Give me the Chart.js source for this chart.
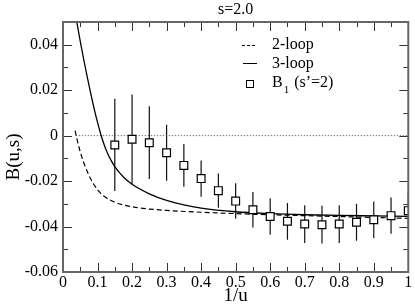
<!DOCTYPE html>
<html><head><meta charset="utf-8">
<script src="https://cdn.jsdelivr.net/npm/chart.js@4/dist/chart.umd.min.js"></script>
<style>html,body{margin:0;padding:0;background:#fff}canvas{display:block}</style>
</head><body>
<canvas id="c" width="415" height="308"></canvas>
<script>
const chartTitle = 's=2.0';
const xTitle = '1/u';
const yTitle = 'B(u,s)';
const xTicks = [0,0.1,0.2,0.3,0.4,0.5,0.6,0.7,0.8,0.9,1];
const xTickLabels = ['0','0.1','0.2','0.3','0.4','0.5','0.6','0.7','0.8','0.9','1'];
const xMinor = [0.05,0.15,0.25,0.35,0.45,0.55,0.65,0.75,0.85,0.95];
const yTicks = [-0.06,-0.04,-0.02,0,0.02,0.04];
const yTickLabels = ['-0.06','-0.04','-0.02','0','0.02','0.04'];
const yMinor = [-0.05,-0.03,-0.01,0.01,0.03];
const legendLabels = ['2-loop','3-loop','B','1',' (s\u2019=2)'];

const loop2X = [0.035,0.04,0.05,0.06,0.07,0.08,0.1,0.12,0.15,0.2,0.25,0.3,0.4,0.5,0.6,0.7,0.8,0.9,1.0];
const loop2Y = [0.0022,-0.0012,-0.0072,-0.0118,-0.0157,-0.0190,-0.0238,-0.0268,-0.0293,-0.0313,-0.0323,-0.0329,-0.0337,-0.0343,-0.0348,-0.0352,-0.0356,-0.0360,-0.0364];

const loop3X = [0.035,0.04,0.05,0.06,0.07,0.08,0.09,0.1,0.11,0.12,0.13,0.14,0.15,0.175,0.2,0.25,0.3,0.35,0.4,0.5,0.6,0.7,0.8,0.9,1.0];
const loop3Y = [0.0545,0.050,0.0415,0.0335,0.026,0.0188,0.012,0.0058,0.0003,-0.0043,-0.0081,-0.0111,-0.0136,-0.0182,-0.0214,-0.0256,-0.0285,-0.0305,-0.0319,-0.0335,-0.0343,-0.0348,-0.0351,-0.0353,-0.0355];

const zeroX = [0.037,1.0];
const zeroY = [0,0];

const bX = [0.15,0.2,0.25,0.3,0.35,0.4,0.45,0.5,0.55,0.6,0.65,0.7,0.75,0.8,0.85,0.9,0.95,1.0];
const bY = [-0.0041,-0.0016,-0.0031,-0.0075,-0.0131,-0.0189,-0.0242,-0.0288,-0.0326,-0.0356,-0.0377,-0.0389,-0.0392,-0.0389,-0.0381,-0.0370,-0.0352,-0.0330];
const bErr = [0.0203,0.0197,0.0160,0.0123,0.0094,0.0080,0.0075,0.0078,0.0078,0.0080,0.0081,0.0083,0.0083,0.0083,0.0081,0.0080,0.0080,0.0080];

const FONT = '"Liberation Serif","Times New Roman",serif';
const pts = (xs, ys) => xs.map((x,i)=>({x:x, y:ys[i]}));

const errPlugin = {
  id:'err',
  beforeDatasetsDraw(chart){
    const {ctx, chartArea:a, scales:{x,y}} = chart;
    ctx.save();
    ctx.beginPath(); ctx.rect(a.left,a.top,a.right-a.left,a.bottom-a.top); ctx.clip();
    ctx.strokeStyle = '#111'; ctx.lineWidth = 1.2;
    bX.forEach((v,i)=>{
      const px = x.getPixelForValue(v);
      ctx.beginPath();
      ctx.moveTo(px, y.getPixelForValue(bY[i]+bErr[i]));
      ctx.lineTo(px, y.getPixelForValue(bY[i]-bErr[i]));
      ctx.stroke();
    });
    ctx.restore();
  }
};

const decoPlugin = {
  id:'deco',
  afterDraw(chart){
    const {ctx, chartArea:a, scales:{x,y}} = chart;
    ctx.save();
    ctx.strokeStyle = '#333'; ctx.lineWidth = 1;
    const tick = (x1,y1,x2,y2)=>{ctx.beginPath();ctx.moveTo(x1,y1);ctx.lineTo(x2,y2);ctx.stroke();};
    xTicks.forEach(v=>{const p=Math.round(x.getPixelForValue(v))+0.5; tick(p,a.bottom,p,a.bottom-9); tick(p,a.top,p,a.top+9);});
    xMinor.forEach(v=>{const p=Math.round(x.getPixelForValue(v))+0.5; tick(p,a.bottom,p,a.bottom-5); tick(p,a.top,p,a.top+5);});
    yTicks.forEach(v=>{const p=Math.round(y.getPixelForValue(v))+0.5; tick(a.left,p,a.left+9,p); tick(a.right,p,a.right-9,p);});
    yMinor.forEach(v=>{const p=Math.round(y.getPixelForValue(v))+0.5; tick(a.left,p,a.left+5,p); tick(a.right,p,a.right-5,p);});
    ctx.strokeStyle = '#666'; ctx.lineWidth = 2;
    ctx.strokeRect(a.left, a.top, a.right-a.left, a.bottom-a.top);
    ctx.fillStyle = '#000';
    ctx.textAlign = 'center'; ctx.textBaseline = 'middle';
    ctx.font = '16px ' + FONT;
    ctx.fillText(chartTitle, (a.left+a.right)/2, 10);
    ctx.font = '19px ' + FONT;
    ctx.textBaseline = 'alphabetic';
    ctx.fillText(xTitle, (a.left+a.right)/2, 301);
    ctx.save();
    ctx.translate(19, 157); ctx.rotate(-Math.PI/2);
    ctx.textBaseline = 'alphabetic';
    ctx.fillText(yTitle, 0, 0);
    ctx.restore();
    ctx.font = '16px ' + FONT;
    ctx.textAlign = 'left'; ctx.textBaseline = 'middle';
    ctx.strokeStyle = '#000'; ctx.lineWidth = 1;
    ctx.setLineDash([3,2]);
    tick(242,45.5,257,45.5);
    ctx.setLineDash([]);
    tick(243,63.5,257,63.5);
    ctx.fillText(legendLabels[0], 272, 45);
    ctx.fillText(legendLabels[1], 272, 64);
    ctx.fillStyle = '#fff'; ctx.strokeStyle = '#000';
    ctx.fillRect(246,80,7,7); ctx.strokeRect(246.5,80.5,7,7);
    ctx.fillStyle = '#000';
    ctx.fillText(legendLabels[2], 272, 83);
    let w = ctx.measureText(legendLabels[2]).width;
    ctx.font = '11px ' + FONT;
    ctx.fillText(legendLabels[3], 272 + w + 1, 90);
    let w2 = ctx.measureText(legendLabels[3]).width;
    ctx.font = '16px ' + FONT;
    ctx.fillText(legendLabels[4], 272 + w + w2 + 2, 83);
    ctx.restore();
  }
};

new Chart(document.getElementById('c'), {
  type:'scatter',
  data:{ datasets:[
    {label:'B1', data:pts(bX,bY), showLine:false, pointStyle:'rect', pointRadius:5.5, pointBorderWidth:1.2,
     pointBackgroundColor:'#fff', pointBorderColor:'#000', order:0},
    {label:'3-loop', data:pts(loop3X,loop3Y), showLine:true, borderColor:'#000', borderWidth:1.3,
     pointRadius:0, cubicInterpolationMode:'monotone', order:1},
    {label:'2-loop', data:pts(loop2X,loop2Y), showLine:true, borderColor:'#000', borderWidth:1.2, borderDash:[5,3],
     pointRadius:0, cubicInterpolationMode:'monotone', order:2},
    {label:'zero', data:pts(zeroX,zeroY), showLine:true, borderColor:'#444', borderWidth:1, borderDash:[1,2],
     pointRadius:0, order:3}
  ]},
  options:{
    responsive:false, animation:false, devicePixelRatio:1,
    layout:{padding:{top:22, right:6, bottom:0, left:0}},
    plugins:{legend:{display:false}, tooltip:{enabled:false}, title:{display:false}},
    scales:{
      x:{type:'linear', min:0, max:1,
         grid:{display:false, drawTicks:false}, border:{display:false},
         afterBuildTicks:s=>{s.ticks = xTicks.map(v=>({value:v}));},
         afterFit:s=>{s.height = 36;},
         ticks:{autoSkip:false, maxRotation:0, padding:1, color:'#000', font:{family:FONT, size:16},
                callback:(v,i)=>xTickLabels[i]}},
      y:{type:'linear', min:-0.06, max:0.05,
         grid:{display:false, drawTicks:false}, border:{display:false},
         afterBuildTicks:s=>{s.ticks = yTicks.map(v=>({value:v}));},
         afterFit:s=>{s.width = 63;},
         ticks:{autoSkip:false, padding:5, color:'#000', font:{family:FONT, size:16},
                callback:(v,i)=>yTickLabels[i]}}
    }
  },
  plugins:[errPlugin, decoPlugin]
});
</script>
</body></html>
